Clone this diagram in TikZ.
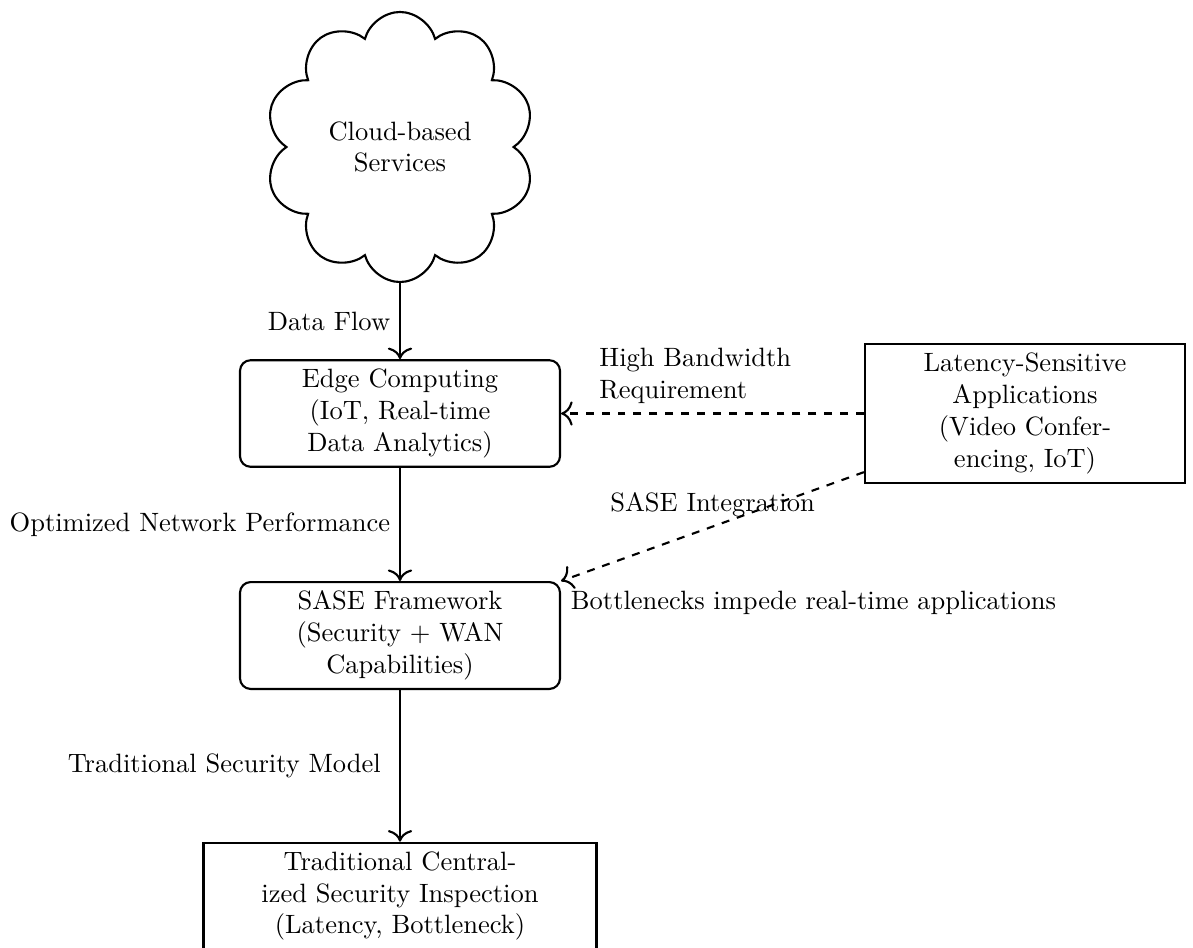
\documentclass[tikz,border=0pt]{standalone}
\usetikzlibrary{shapes.symbols,arrows.meta}
\begin{document}
\begin{tikzpicture}[x=0.37736pt,y=-0.37736pt, thick, >={To[scale=1.3]},
  blockr/.style={draw, rounded corners, text width=3cm, align=center, minimum width=120.75pt},
  blocks/.style={draw, text width=3cm, align=center, minimum width=120.75pt},
  bottombox/.style={draw, text width=4cm, align=center, minimum width=148.3pt},
  cloudbox/.style={draw, cloud, cloud puffs=10, align=center, minimum width=99.6pt, minimum height=101.9pt},
  flow/.style={->},
  dflow/.style={->, dashed}]
\useasboundingbox (0,0) rectangle (1193,947);
\node[cloudbox] (cloud) at (400,147) {Cloud-based\\Services};
\node[blockr] (edge) at (400,413.5) {Edge Computing\\(IoT, Real-time\\Data Analytics)};
\node[blockr] (sase) at (400,635.5) {SASE Framework\\(Security + WAN\\Capabilities)};
\node[blocks] (lat) at (1025,413.5) {Latency-Sensitive\\Applications\\(Video Confer-\\encing, IoT)};
\node[bottombox] (trad) at (400,896) {Traditional Central-\\ized Security Inspection\\(Latency, Bottleneck)};
\draw[flow] (cloud) -- node[left] {Data Flow} (edge);
\draw[flow] (edge) -- node[left] {Optimized Network Performance} (sase);
\draw[flow] (sase) -- node[left, xshift=-3.5pt] {Traditional Security Model} (trad);
\draw[dflow] (lat) -- node[above, text width=3cm, align=left] {High Bandwidth\\Requirement} (edge);
\draw[dflow] (lat.200) -- node[above] {SASE Integration} node[pos=1, anchor=north west] {Bottlenecks impede real-time applications} (sase.north east);
\end{tikzpicture}
\end{document}
